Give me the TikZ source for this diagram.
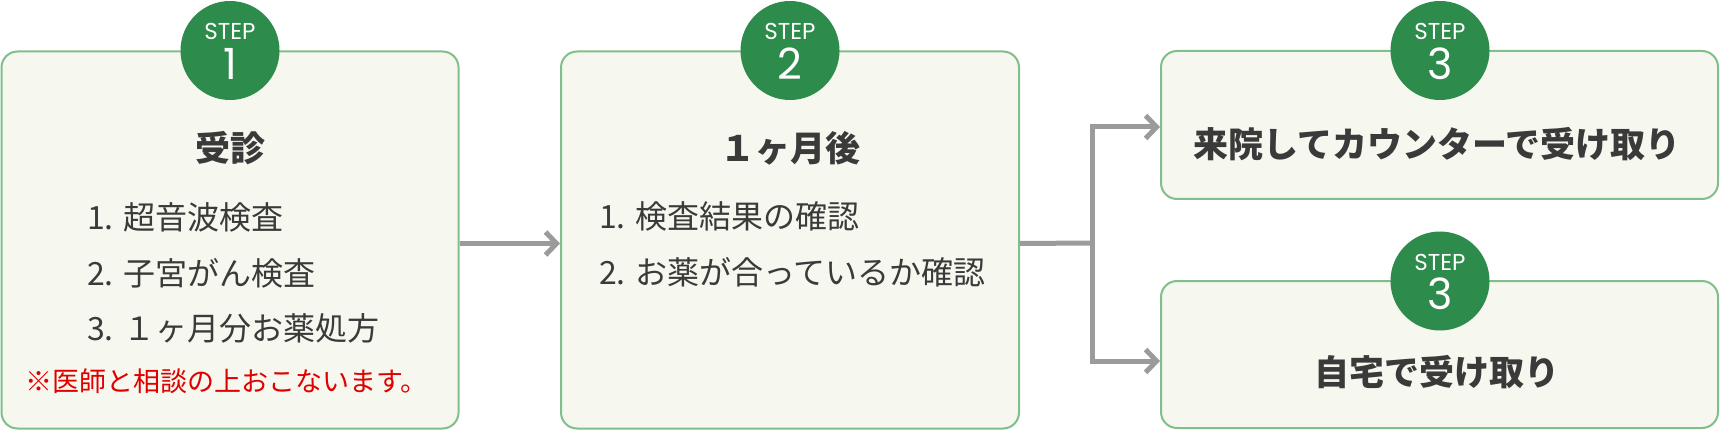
\documentclass[tikz,border=0pt]{standalone}
\usepackage{fontspec}
\newfontfamily\jpfont{Noto Sans CJK JP}
\newfontfamily\stepfont{Poppins}
\usetikzlibrary{positioning,arrows.meta}
\definecolor{boxfill}{HTML}{F6F7EE}
\definecolor{boxline}{HTML}{80BF8B}
\definecolor{stepgreen}{HTML}{2D8B4B}
\definecolor{flowgray}{HTML}{9B9B9B}
\definecolor{textdark}{HTML}{3A3A3A}
\definecolor{notered}{HTML}{E00000}

\begin{document}
\begin{tikzpicture}[x=1pt,y=-1pt,
    box/.style={draw=boxline, fill=boxfill, line width=2pt, rounded corners=16pt, inner sep=0pt},
    badge/.style={circle, fill=stepgreen, minimum size=99pt, inner sep=0pt},
    steplbl/.style={text=white, inner sep=0pt, font=\stepfont\fontsize{23}{23}\selectfont},
    stepnum/.style={text=white, inner sep=0pt, font=\stepfont\fontsize{43}{43}\selectfont},
    boxtitle/.style={text=textdark, inner sep=0pt, font=\jpfont\bfseries\fontsize{35}{35}\selectfont},
    listitem/.style={anchor=west, text=textdark, inner sep=0pt, font=\jpfont\fontsize{32}{32}\selectfont},
    remark/.style={anchor=west, text=notered, inner sep=0pt, font=\jpfont\fontsize{27}{27}\selectfont},
    flowline/.style={draw=flowgray, line width=5pt},
    flowarrow/.style={flowline, -{Straight Barb[length=11pt,width=23pt,line width=5pt]}}
]
    \useasboundingbox (0,0) rectangle (1720,430);

    % step boxes
    \node[box, minimum width=457pt, minimum height=377pt] (box1) at (230,240) {};
    \node[box, minimum width=458pt, minimum height=377pt] (box2) at (790,240) {};
    \node[box, minimum width=557pt, minimum height=148pt] (box3a) at (1439.5,125) {};
    \node[box, minimum width=557pt, minimum height=147pt] (box3b) at (1439.5,354.5) {};

    % step badges
    \node[badge] (badge1) at (230,50.5) {};
    \node[badge] (badge2) at (790,50.5) {};
    \node[badge] (badge3a) at (1440,50.5) {};
    \node[badge] (badge3b) at (1440,281) {};

    \node[steplbl] (step1) at ([yshift=19pt]badge1.center) {STEP};
    \node[stepnum] (num1) at ([yshift=-13pt]badge1.center) {1};
    \node[steplbl] (step2) at ([yshift=19pt]badge2.center) {STEP};
    \node[stepnum] (num2) at ([yshift=-13pt]badge2.center) {2};
    \node[steplbl] (step3a) at ([yshift=19pt]badge3a.center) {STEP};
    \node[stepnum] (num3a) at ([yshift=-13pt]badge3a.center) {3};
    \node[steplbl] (step3b) at ([yshift=19pt]badge3b.center) {STEP};
    \node[stepnum] (num3b) at ([yshift=-13pt]badge3b.center) {3};

    % step 1
    \node[boxtitle] (title1) at (230,148) {受診};
    \node[listitem] (item11) at (87,217) {1. 超音波検査};
    \node[listitem] (item12) at (87,273) {2. 子宮がん検査};
    \node[listitem] (item13) at (87,328) {3. １ヶ月分お薬処方};
    \node[remark] (remark1) at (25,381) {※医師と相談の上おこないます。};

    % step 2
    \node[boxtitle] (title2) at (790,148) {１ヶ月後};
    \node[listitem] (item21) at (599,216) {1. 検査結果の確認};
    \node[listitem] (item22) at (599,272) {2. お薬が合っているか確認};

    % step 3
    \node[boxtitle] (title3a) at (1437,144) {来院してカウンターで受け取り};
    \node[boxtitle] (title3b) at (1437,372) {自宅で受け取り};

    % flow
    \coordinate (fork) at (1092,243);
    \draw[flowarrow] ([yshift=-3.5pt]box1.east) -- ([yshift=-3.5pt]box2.west);
    \draw[flowline] ([yshift=-3.5pt]box2.east) -- (fork);
    \draw[flowarrow] (fork) |- ([yshift=-2pt]box3a.west);
    \draw[flowarrow] (fork) |- ([yshift=-6.5pt]box3b.west);

\end{tikzpicture}
\end{document}
